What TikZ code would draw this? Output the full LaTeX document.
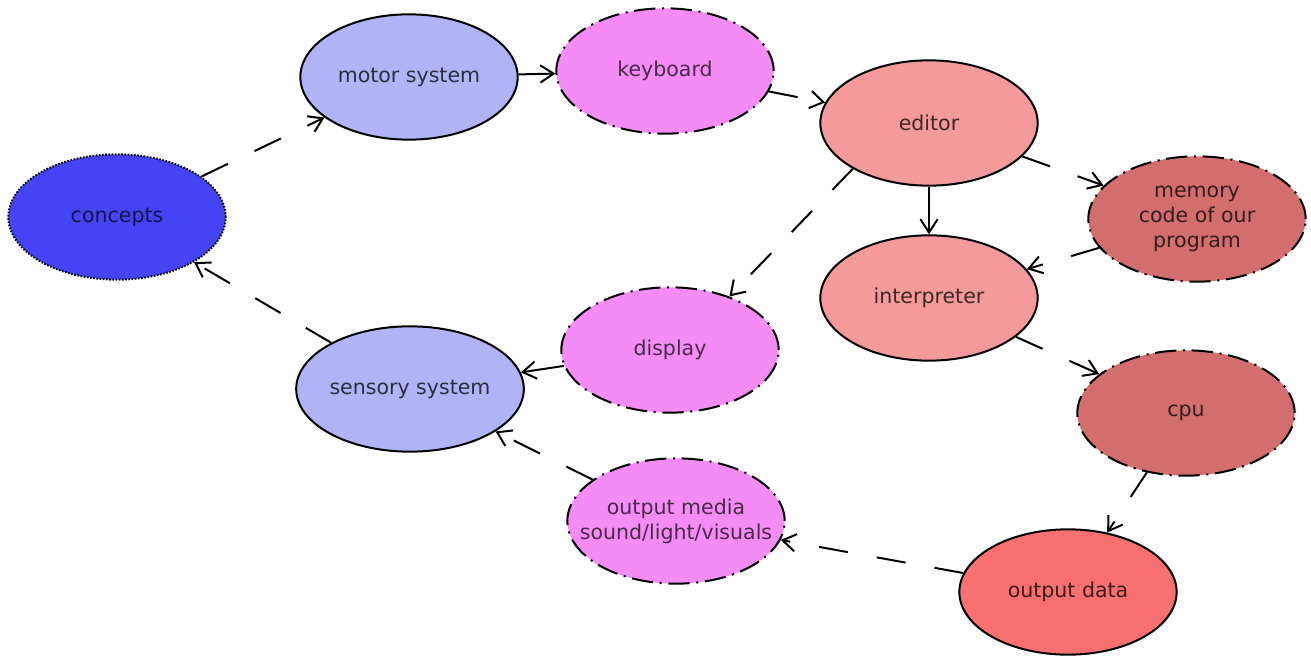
\documentclass[tikz,border=0pt]{standalone}
\usepackage{fontspec}
\setmainfont{DejaVu Sans}
\usetikzlibrary{shapes.geometric,arrows.meta}

\definecolor{conceptblue}{RGB}{68,68,246}
\definecolor{bodyblue}{RGB}{176,180,246}
\definecolor{deviceviolet}{RGB}{245,140,245}
\definecolor{softred}{RGB}{245,154,154}
\definecolor{machinered}{RGB}{210,110,110}
\definecolor{outred}{RGB}{248,112,112}

\begin{document}
\begin{tikzpicture}[x=0.75pt,y=0.75pt,yscale=-1,xscale=1,
    blob/.style={ellipse, draw, line width=1.5pt, minimum width=163pt, minimum height=94pt,
      inner sep=0pt, align=center, font=\fontsize{15.4}{18.8}\selectfont},
    dotborder/.style={dash pattern={on 1.2pt off 1.2pt}},
    dashdotborder/.style={dash pattern={on 16pt off 5pt on 1.5pt off 5pt}},
    flow/.style={line width=1.5pt, -{Straight Barb[length=10pt,width=13pt]}},
    gap/.style={flow, dash pattern={on 22pt off 22pt}}
  ]
  \useasboundingbox (0,0) rectangle (1311,656);

  % people side
  \node[blob, fill=conceptblue, dotborder, text=conceptblue!30!black] (concepts) at (117,217) {concepts};
  \node[blob, fill=bodyblue, text=bodyblue!25!black] (motor) at (409,77) {motor system};
  \node[blob, fill=bodyblue, text=bodyblue!25!black] (sensory) at (410,389) {sensory system};

  % devices
  \node[blob, fill=deviceviolet, dashdotborder, text=deviceviolet!30!black] (keyboard) at (665,71) {keyboard};
  \node[blob, fill=deviceviolet, dashdotborder, text=deviceviolet!30!black] (display) at (670,350) {display};
  \node[blob, fill=deviceviolet, dashdotborder, text=deviceviolet!30!black, inner xsep=-14.5pt] (media) at (676,521) {output media\\sound/light/visuals};

  % machine side
  \node[blob, fill=softred, text=softred!25!black] (editor) at (929,123) {editor};
  \node[blob, fill=softred, text=softred!25!black] (interp) at (929,298) {interpreter};
  \node[blob, fill=machinered, dashdotborder, text=machinered!25!black] (memory) at (1197,219) {memory\\code of our\\program};
  \node[blob, fill=machinered, dashdotborder, text=machinered!25!black] (cpu) at (1186,413) {cpu};
  \node[blob, fill=outred, text=outred!25!black] (outdata) at (1068,592) {output data};

  % connectors
  \draw[gap] (concepts) -- (motor);
  \draw[flow] (motor) -- (keyboard);
  \draw[gap] (keyboard) -- (editor);
  \draw[flow] (editor) -- (interp);
  \draw[gap] (editor) -- (memory);
  \draw[gap] (memory) -- (interp);
  \draw[gap] (editor.211) -- (display.42);
  \draw[gap] (interp) -- (cpu);
  \draw[gap] (cpu) -- (outdata);
  \draw[gap] (outdata) -- (media);
  \draw[gap] (media) -- (sensory);
  \draw[flow] (display) -- (sensory);
  \draw[gap] (sensory) -- (concepts);

\end{tikzpicture}
\end{document}
